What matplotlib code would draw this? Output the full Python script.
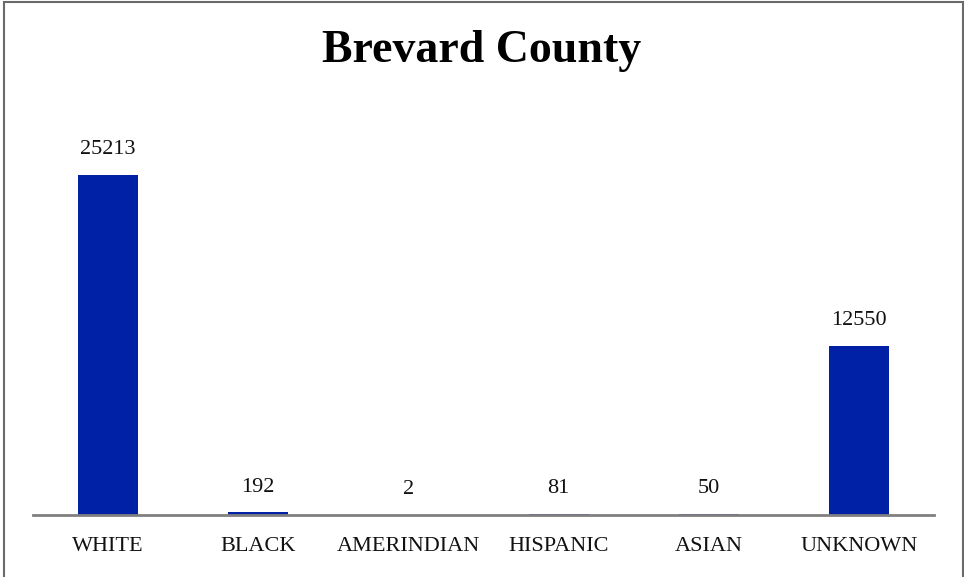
import matplotlib
matplotlib.use("Agg")
import matplotlib.pyplot as plt
from matplotlib.patches import Rectangle

categories = ["WHITE", "BLACK", "AMERINDIAN", "HISPANIC", "ASIAN", "UNKNOWN"]
values = [25213, 192, 2, 81, 50, 12550]
title = "Brevard County"

plt.rcParams['font.family'] = ['Liberation Serif', 'DejaVu Serif']

fig = plt.figure(figsize=(9.64, 5.77), dpi=100)
ax = fig.add_axes([33/964, (577-515)/577, (934-33)/964, (515-115)/577])

x = list(range(len(categories)))
bars = ax.bar(x, values, width=0.4, color="#0020A5")
ax.set_xlim(-0.5, len(categories) - 0.5)
ax.set_ylim(0, 25213 * 400 / 340)

for xi, v in zip(x, values):
    ax.annotate(str(v), (xi, v), xytext=(0, 15), textcoords="offset points",
                ha="center", va="baseline", fontsize=16, color="#111111")

ax.set_xticks(x)
ax.set_xticklabels(categories, fontsize=16, color="#111111")
ax.tick_params(axis="x", length=0, pad=16)
ax.set_yticks([])
for s in ["top", "right", "left"]:
    ax.spines[s].set_visible(False)
ax.spines["bottom"].set_color("#808080")
ax.spines["bottom"].set_linewidth(2)

fig.text(0.5, (577-62)/577, title, ha="center", va="baseline",
         fontsize=33, fontweight="bold", color="#000000")

fig.patches.append(Rectangle((4/964, -0.02), (963-4)/964, (577-2.5)/577 + 0.02,
                             transform=fig.transFigure, fill=False,
                             edgecolor="#6a6a6a", linewidth=1.5))

fig.savefig("out.png", dpi=100)
